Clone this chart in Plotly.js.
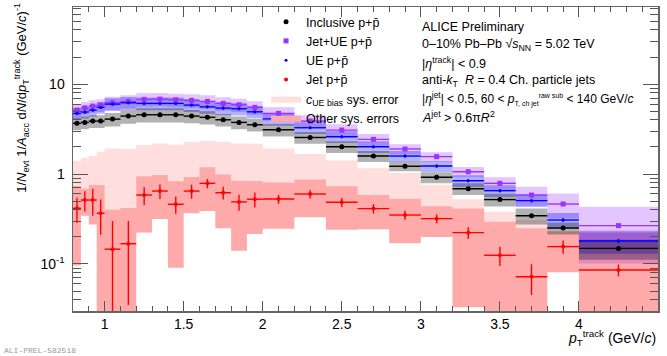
<!DOCTYPE html>
<html>
<head>
<meta charset="utf-8">
<script src="https://cdn.plot.ly/plotly-3.0.1.min.js"></script>
<style>html,body{margin:0;padding:0;background:#fff}</style>
</head>
<body>
<div id="chart" style="width:667px;height:356px"></div>
<script>
// pT bin edges (GeV/c)
const binEdges = [0.8, 0.85, 0.9, 0.95, 1.0, 1.1, 1.2, 1.3, 1.4, 1.5, 1.6, 1.7, 1.8, 1.9, 2.0,
                  2.2, 2.4, 2.6, 2.8, 3.0, 3.2, 3.4, 3.6, 3.8, 4.0, 4.5];

// inclusive p+pbar
const inclusive    = [3.66, 3.75, 3.88, 3.88, 4.08, 4.41, 4.56, 4.56, 4.56, 4.41, 4.27, 4.01, 3.75,
                      3.53, 3.11, 2.55, 2.01, 1.585, 1.22, 0.92, 0.687, 0.52, 0.344, 0.251, 0.149];
const inclusiveSys = [0.16, 0.16, 0.16, 0.16, 0.17, 0.18, 0.18, 0.18, 0.18, 0.17, 0.17, 0.16, 0.16,
                      0.16, 0.16, 0.15, 0.15, 0.14, 0.12, 0.14, 0.15, 0.16, 0.2, 0.15, 0.25];

// jet+UE p+pbar
const jetUE    = [5.14, 5.45, 5.70, 5.84, 6.20, 6.42, 6.76, 6.81, 6.69, 6.59, 6.42, 6.10, 5.89,
                  5.51, 4.72, 3.88, 3.08, 2.43, 1.90, 1.56, 1.06, 0.788, 0.584, 0.464, 0.267];
const jetUEStat = [0.08, 0.08, 0.09, 0.09, 0.1, 0.1, 0.1, 0.1, 0.1, 0.1, 0.1, 0.1, 0.1,
                   0.09, 0.08, 0.07, 0.06, 0.05, 0.04, 0.035, 0.025, 0.02, 0.016, 0.013, 0.009];
const jetUESys = [0.16, 0.16, 0.16, 0.16, 0.17, 0.17, 0.17, 0.17, 0.17, 0.17, 0.17, 0.17, 0.17,
                  0.17, 0.17, 0.16, 0.16, 0.15, 0.13, 0.12, 0.13, 0.17, 0.24, 0.31, 0.62];

// UE p+pbar
const ue     = [4.72, 4.89, 5.14, 5.51, 5.99, 6.20, 6.10, 6.10, 6.10, 5.84, 5.59, 5.41, 5.32,
                4.92, 4.11, 3.27, 2.60, 2.01, 1.585, 1.227, 0.843, 0.653, 0.506, 0.308, 0.180];
const ueStat = [0.19, 0.2, 0.2, 0.22, 0.24, 0.25, 0.24, 0.24, 0.24, 0.23, 0.22, 0.22, 0.21,
                0.2, 0.16, 0.13, 0.1, 0.08, 0.065, 0.05, 0.035, 0.027, 0.022, 0.015, 0.01];
const ueSys  = [0.15, 0.15, 0.15, 0.15, 0.16, 0.16, 0.16, 0.16, 0.16, 0.16, 0.16, 0.16, 0.16,
                0.16, 0.16, 0.15, 0.15, 0.15, 0.14, 0.14, 0.15, 0.15, 0.15, 0.2, 0.28];

// jet p+pbar (UE subtracted)
const jet       = [0.416, 0.514, 0.514, 0.366, 0.146, 0.168, 0.584, 0.647, 0.461, 0.647, 0.788, 0.620, 0.49,
                   0.525, 0.527, 0.60, 0.485, 0.413, 0.350, 0.319, 0.223, 0.125, 0.0722, 0.156, 0.0858];
const jetStat   = [0.13, 0.13, 0.17, 0.155, 0.155, 0.133, 0.13, 0.12, 0.10, 0.115, 0.095, 0.10, 0.10,
                   0.10, 0.06, 0.065, 0.055, 0.05, 0.04, 0.036, 0.033, 0.03, 0.027, 0.026, 0.013];
const jetOther  = [0.32, 0.17, 0.24, 0.39, 0.254, 0.25, 0.36, 0.33, 0.37, 0.28, 0.40, 0.37, 0.35,
                   0.31, 0.28, 0.27, 0.245, 0.17, 0.18, 0.12, 0.19, 0.17, 0.177, 0.075, 0.137];
const jetUEBias = [0.99, 0.98, 1.07, 1.40, 1.78, 1.73, 1.52, 1.54, 1.66, 1.62, 1.54, 1.65, 1.7,
                   1.65, 1.40, 1.07, 0.925, 0.75, 0.68, 0.44, 0.30, 0.255, 0.236, 0.072, 0.154];

const centers = binEdges.slice(0, -1).map((e, i) => (e + binEdges[i + 1]) / 2);
const halfWidths = binEdges.slice(0, -1).map((e, i) => (binEdges[i + 1] - e) / 2);

const FONT = 'Liberation Sans, Arial, sans-serif';

// one filled trace holding a box per bin, gaps split the polygons
function boxTrace(lo, hi, color, name, showlegend, rank) {
    let xs = [], ys = [];
    for (let i = 0; i < lo.length; i++) {
        let x0 = binEdges[i], x1 = binEdges[i + 1];
        let y0 = Math.max(lo[i], 1e-3), y1 = hi[i];
        xs.push(x0, x1, x1, x0, x0, null);
        ys.push(y0, y0, y1, y1, y0, null);
    }
    return {
        x: xs, y: ys, type: 'scatter', mode: 'lines', fill: 'toself',
        fillcolor: color, line: {width: 0, color: color},
        name: name, showlegend: showlegend, legendrank: rank, hoverinfo: 'skip'
    };
}

function relBox(vals, rel) {
    return [vals.map((v, i) => v * (1 - rel[i])), vals.map((v, i) => v * (1 + rel[i]))];
}

function pointTrace(vals, stat, color, symbol, size, name, rank) {
    return {
        x: centers, y: vals, type: 'scatter', mode: 'markers', name: name, legendrank: rank,
        marker: {color: color, symbol: symbol, size: size},
        error_x: {type: 'data', array: halfWidths, color: color, thickness: 1.4, width: 0},
        error_y: {type: 'data', array: stat, color: color, thickness: 1.4, width: 0}
    };
}

const [incLo, incHi] = relBox(inclusive, inclusiveSys);
const [jueLo, jueHi] = relBox(jetUE, jetUESys);
const [ueLo, ueHi] = relBox(ue, ueSys);

const traces = [
    boxTrace(jet, jet.map((v, i) => v + jetUEBias[i]), '#ffdede', '<i>c</i><sub>UE bias</sub> sys. error', true, 5),
    boxTrace(jet.map((v, i) => v - jetOther[i]), jet.map((v, i) => v + jetOther[i]), '#ffaaaa', 'Other sys. errors', true, 6),
    boxTrace(jueLo, jueHi, 'rgba(153,51,255,0.28)', 'Jet+UE sys', false, 10),
    boxTrace(ueLo, ueHi, 'rgba(0,0,255,0.3)', 'UE sys', false, 11),
    boxTrace(incLo, incHi, 'rgba(0,0,0,0.3)', 'Inclusive sys', false, 12),
    pointTrace(jetUE, jetUEStat, '#9933ff', 'square', 5, 'Jet+UE p+p\u0304', 2),
    pointTrace(ue, ueStat, '#0000ff', 'circle', 3, 'UE p+p\u0304', 3),
    pointTrace(inclusive, inclusive.map(() => 0), '#000000', 'circle', 5, 'Inclusive p+p\u0304', 1),
    pointTrace(jet, jetStat, '#ff0000', 'circle', 4, 'Jet p+p\u0304', 4)
];

const small = s => '<span style="font-size:7px">' + s + '</span>';

const infoLines = [
    'ALICE Preliminary',
    '0\u201310% Pb\u2013Pb \u221A<i>s</i><sub>NN</sub> = 5.02 TeV',
    '|<i>\u03B7</i><sup>track</sup>| < 0.9',
    'anti-<i>k</i><sub>T</sub>  <i>R</i> = 0.4 Ch. particle jets',
    '|<i>\u03B7</i><sup>jet</sup>| < 0.5, 60 < <i>p</i><sub>' + small('T, ch jet') + '</sub><sup>' + small('raw sub') + '</sup> < 140 GeV/<i>c</i>',
    '<i>A</i><sup>jet</sup> > 0.6\u03C0<i>R</i><sup>2</sup>'
];
const infoSizes = [12.5, 12.5, 12.5, 12.5, 12, 12.5];

let annotations = infoLines.map((t, i) => ({
    text: t, xref: 'paper', yref: 'paper', x: 0.593, y: 0.934 - i * 0.059,
    xanchor: 'left', yanchor: 'middle', showarrow: false, font: {family: FONT, size: infoSizes[i], color: '#000'}
}));

annotations.push({
    text: '<i>p</i><sub>T</sub><sup>track</sup> (GeV/<i>c</i>)', xref: 'paper', yref: 'paper',
    x: 1.0, y: -0.09, xanchor: 'right', yanchor: 'middle', showarrow: false,
    font: {family: FONT, size: 14, color: '#000'}
});
annotations.push({
    text: '1/<i>N</i><sub>evt</sub> 1/<i>A</i><sub>acc</sub> d<i>N</i>/d<i>p</i><sub>T</sub><sup>track</sup> (GeV/<i>c</i>)<sup>-1</sup>',
    xref: 'paper', yref: 'paper', x: -0.088, y: 0.70, textangle: -90,
    xanchor: 'center', yanchor: 'middle', showarrow: false,
    font: {family: FONT, size: 13, color: '#000'}
});
annotations.push({
    text: 'ALI-PREL-582518', xref: 'paper', yref: 'paper', x: -0.121, y: -0.13,
    xanchor: 'left', yanchor: 'middle', showarrow: false,
    font: {family: 'Liberation Mono, monospace', size: 8, color: '#999'}
});

const layout = {
    width: 667, height: 356,
    margin: {l: 73, r: 9, t: 7, b: 45},
    paper_bgcolor: '#fff', plot_bgcolor: '#fff',
    font: {family: FONT, size: 14, color: '#000'},
    showlegend: true,
    legend: {
        x: 0.33, y: 1.0, xanchor: 'left', yanchor: 'top',
        bgcolor: 'rgba(0,0,0,0)', font: {family: FONT, size: 12.5}, itemwidth: 30
    },
    xaxis: {
        type: 'linear', range: [0.8, 4.5], tick0: 0, dtick: 0.5,
        ticks: 'inside', ticklen: 10, tickcolor: '#555', mirror: 'allticks',
        showline: true, linecolor: '#666', linewidth: 1.5, showgrid: false, zeroline: false,
        minor: {dtick: 0.1, ticks: 'inside', ticklen: 5, tickcolor: '#555'},
        tickfont: {family: FONT, size: 14}
    },
    yaxis: {
        type: 'log', range: [Math.log10(0.03), Math.log10(72)],
        tickvals: [0.1, 1, 10], ticktext: ['10<sup>-1</sup>', '1', '10'],
        ticks: 'inside', ticklen: 15, tickcolor: '#555', mirror: 'allticks',
        showline: true, linecolor: '#666', linewidth: 1.5, showgrid: false, zeroline: false,
        minor: {dtick: 'D1', ticks: 'inside', ticklen: 8, tickcolor: '#555'},
        ticklabelstandoff: 4,
        tickfont: {family: FONT, size: 14}
    },
    annotations: annotations
};

Plotly.newPlot('chart', traces, layout, {staticPlot: true});
</script>
</body>
</html>
